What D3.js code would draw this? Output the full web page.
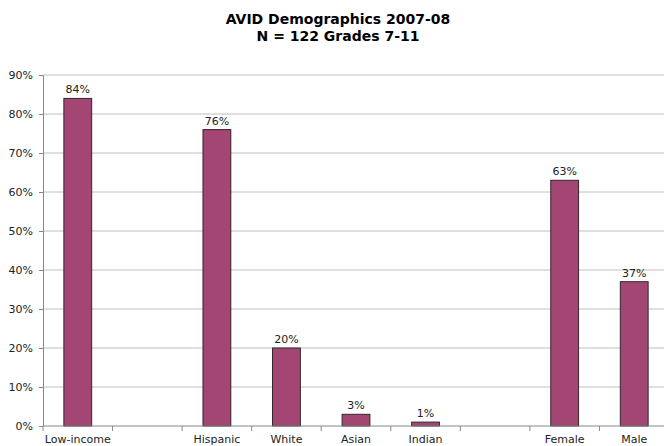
<!DOCTYPE html>
<html>
<head>
<meta charset="utf-8">
<script src="https://cdn.jsdelivr.net/npm/d3@7"></script>
<style>
  body { margin: 0; background: #fff; }
  text { font-family: "DejaVu Sans", Verdana, sans-serif; }
</style>
</head>
<body>
<div id="chart"></div>
<script>
const categories = ["Low-income", "", "Hispanic", "White", "Asian", "Indian", " ", "Female", "Male"];
const values = [84, null, 76, 20, 3, 1, null, 63, 37];
const yTicks = [0, 10, 20, 30, 40, 50, 60, 70, 80, 90];
const titleLines = ["AVID Demographics 2007-08", "N = 122 Grades 7-11"];

const width = 664, height = 446;
const margin = { top: 75, right: -5, bottom: 20, left: 43 };

const svg = d3.select("#chart")
  .append("svg")
    .attr("width", width)
    .attr("height", height);

const x = d3.scaleBand()
  .domain(categories)
  .range([margin.left, width - margin.right])
  .paddingInner(0.6)
  .paddingOuter(0.3);

const y = d3.scaleLinear().domain([0, 90]).range([height - margin.bottom, margin.top]);

// gridlines
svg.append("g")
  .selectAll("line")
  .data(yTicks.slice(1))
  .join("line")
    .attr("x1", margin.left)
    .attr("x2", width)
    .attr("y1", d => y(d))
    .attr("y2", d => y(d))
    .attr("stroke", "#c0c0c0")
    .attr("stroke-width", 1);

// bars
const data = categories.map((c, i) => ({ c, v: values[i] })).filter(d => d.v != null);

svg.append("g")
  .selectAll("rect")
  .data(data)
  .join("rect")
    .attr("x", d => x(d.c))
    .attr("y", d => y(d.v))
    .attr("width", x.bandwidth())
    .attr("height", d => y(0) - y(d.v))
    .attr("fill", "#a34673")
    .attr("stroke", "#33252c")
    .attr("stroke-width", 1);

svg.append("g")
  .selectAll("text")
  .data(data)
  .join("text")
    .attr("x", d => x(d.c) + x.bandwidth() / 2)
    .attr("y", d => y(d.v) - 5)
    .attr("text-anchor", "middle")
    .attr("font-size", 11)
    .attr("fill", "#222")
    .text(d => d.v + "%");

// y axis
const yAxis = svg.append("g")
  .attr("transform", `translate(${margin.left},0)`)
  .call(d3.axisLeft(y).tickValues(yTicks).tickFormat(d => d + "%").tickSize(4).tickPadding(6));
yAxis.select(".domain").attr("stroke", "#888");
yAxis.selectAll(".tick line").attr("stroke", "#888");
yAxis.selectAll(".tick text").attr("font-size", 11).attr("fill", "#222")
  .style("font-family", "'DejaVu Sans', Verdana, sans-serif");

// x axis
const step = x.step();
const xAxisG = svg.append("g").attr("transform", `translate(0,${y(0)})`);
xAxisG.append("line")
  .attr("x1", margin.left).attr("x2", width)
  .attr("stroke", "#888");
xAxisG.selectAll(".xt")
  .data(categories)
  .join("line")
    .attr("class", "xt")
    .attr("x1", d => x(d) + x.bandwidth() / 2 - step / 2)
    .attr("x2", d => x(d) + x.bandwidth() / 2 - step / 2)
    .attr("y1", 0).attr("y2", 5)
    .attr("stroke", "#888");
xAxisG.selectAll("text")
  .data(categories)
  .join("text")
    .attr("x", d => x(d) + x.bandwidth() / 2)
    .attr("y", 17)
    .attr("text-anchor", "middle")
    .attr("font-size", 11)
    .attr("fill", "#222")
    .text(d => d.trim());

// title
svg.append("g")
  .selectAll("text")
  .data(titleLines)
  .join("text")
    .attr("x", 338)
    .attr("y", (d, i) => 24 + i * 17)
    .attr("text-anchor", "middle")
    .attr("font-size", 14)
    .attr("font-weight", "bold")
    .attr("fill", "#000")
    .text(d => d);
</script>
</body>
</html>
